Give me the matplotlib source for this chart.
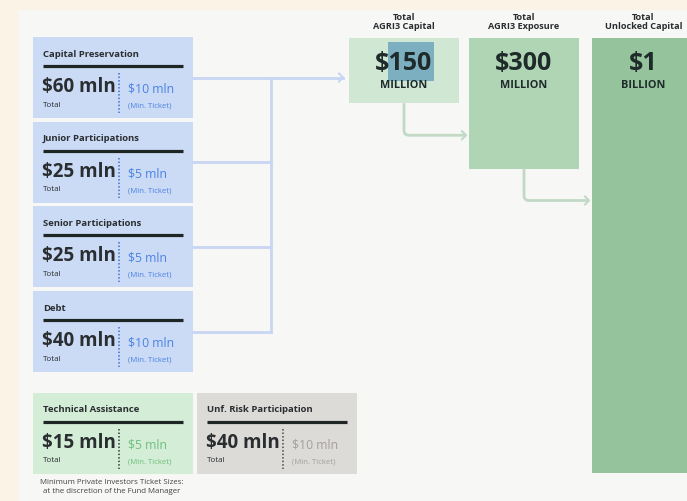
import matplotlib.pyplot as plt
from matplotlib.patches import Rectangle
from matplotlib.path import Path
from matplotlib.patches import PathPatch

plt.rcParams["font.family"] = ["Open Sans", "DejaVu Sans"]

# fund tranches (USD mln)
TRANCHES = ["Capital Preservation", "Junior Participations", "Senior Participations", "Debt"]
TRANCHE_TOTAL = [60, 25, 25, 40]
TRANCHE_TICKET = [10, 5, 5, 10]

# side facilities (USD mln)
EXTRA = ["Technical Assistance", "Unf. Risk Participation"]
EXTRA_TOTAL = [15, 40]
EXTRA_TICKET = [5, 10]

# totals (USD mln)
SUMMARY_HEAD = ["Total\nAGRI3 Capital", "Total\nAGRI3 Exposure", "Total\nUnlocked Capital"]
SUMMARY_VAL = [150, 300, 1000]
SUMMARY_TXT = ["$150", "$300", "$1"]
SUMMARY_UNIT = ["MILLION", "MILLION", "BILLION"]

FOOTNOTE = "Minimum Private Investors Ticket Sizes:\nat the discretion of the Fund Manager"

DARK = "#2a2e31"
BLUE_FACE = "#cbdbf5"
BLUE_TXT = "#4b82e3"
LINK_BLUE = "#c8d5f3"
LINK_GREEN = "#c2d9c6"
GREENS = ["#d0e7d4", "#afd5b5", "#95c49c"]

W, H = 687, 501
fig = plt.figure(figsize=(W / 100, H / 100), dpi=100)
fig.patch.set_facecolor("#fcf3e7")
ax = fig.add_axes([0, 0, 1, 1])
ax.set_xlim(0, W)
ax.set_ylim(H, 0)
ax.axis("off")

# inner panel
ax.add_patch(Rectangle((18, 10), W - 18, H - 10, facecolor="#f7f7f6", edgecolor="none", zorder=0))

CARD_W, CARD_H = 160, 81


def card(x0, y0, title, total, ticket, face, accent, dots):
    ax.add_patch(Rectangle((x0, y0), CARD_W, CARD_H, facecolor=face, edgecolor="none", zorder=1))
    ax.text(x0 + 10, y0 + 17, title, fontsize=6.8, fontweight="bold", color=DARK, va="center", zorder=3)
    ax.plot([x0 + 10, x0 + 150], [y0 + 29, y0 + 29], color="#1d2525", lw=2.3,
            solid_capstyle="butt", zorder=3)
    ax.text(x0 + 9, y0 + 50, f"${total} mln", fontsize=13.5, fontweight="bold", color=DARK,
            va="center", zorder=3)
    ax.text(x0 + 10, y0 + 68, "Total", fontsize=5.8, color=DARK, va="center", zorder=3)
    ax.plot([x0 + 86, x0 + 86], [y0 + 36, y0 + 76], color=dots, lw=1.1, ls=(0, (1, 1.3)), zorder=3)
    ax.text(x0 + 95, y0 + 52, f"${ticket} mln", fontsize=8.8, color=accent, va="center", zorder=3)
    ax.text(x0 + 95, y0 + 69, "(Min. Ticket)", fontsize=5.6, color=accent, va="center", zorder=3)


tops = [37 + i * 84.7 for i in range(len(TRANCHES))]
for y0, name, tot, tic in zip(tops, TRANCHES, TRANCHE_TOTAL, TRANCHE_TICKET):
    card(33, y0, name, tot, tic, BLUE_FACE, BLUE_TXT, "#3d6fd0")

extra_style = [("#d3edd7", "#6fbf7c", "#2d3a2f"), ("#dddbd8", "#a3a09c", "#4a4845")]
for i, (name, tot, tic) in enumerate(zip(EXTRA, EXTRA_TOTAL, EXTRA_TICKET)):
    face, acc, dots = extra_style[i]
    card(33 + i * 164, 393, name, tot, tic, face, acc, dots)

ax.text(112, 487, FOOTNOTE, fontsize=5.7, color="#444", ha="center", va="center", linespacing=1.4)

# blue connectors into the trunk
mids = [t + CARD_H / 2 for t in tops]
trunk_x = 271
for m in mids[1:]:
    ax.plot([193, trunk_x], [m, m], color=LINK_BLUE, lw=2, zorder=1)
ax.plot([trunk_x, trunk_x], [mids[0], mids[-1]], color=LINK_BLUE, lw=2, zorder=1)
ax.plot([193, 343], [mids[0], mids[0]], color=LINK_BLUE, lw=2, zorder=1)
ax.plot([339, 343, 339], [mids[0] - 4, mids[0], mids[0] + 4], color=LINK_BLUE, lw=1.5, zorder=1)

# summary bars, height proportional to value
scale = 0.435
bar_w = 110
lefts = [349, 469, 592]
bar_top = 38
ax.bar([l + bar_w / 2 for l in lefts], [v * scale for v in SUMMARY_VAL], bottom=bar_top,
       width=bar_w, color=GREENS, zorder=1)

# highlight patch on first value
ax.add_patch(Rectangle((388, 42), 46, 39, facecolor="#6da5bd", alpha=0.85, edgecolor="none", zorder=2))

for l, head, txt, unit in zip(lefts, SUMMARY_HEAD, SUMMARY_TXT, SUMMARY_UNIT):
    cx = l + bar_w / 2
    if l + bar_w > W:
        cx = l + (W - l) / 2 + 4
    ax.text(cx, 22, head, fontsize=6.6, fontweight="bold", color=DARK, ha="center", va="center",
            linespacing=1.0)
    ax.text(cx, 63, txt, fontsize=18, fontweight="bold", color="#1f2a2a", ha="center", va="center",
            zorder=3)
    ax.text(cx, 85, unit, fontsize=7.8, fontweight="bold", color="#1f2a2a", ha="center", va="center",
            zorder=3)

# green elbow connectors between the totals
for i in range(2):
    x_start = lefts[i] + bar_w / 2
    y_start = bar_top + SUMMARY_VAL[i] * scale
    y_turn = y_start + 32
    x_end = lefts[i + 1] - 3
    verts = [(x_start, y_start), (x_start, y_turn - 5), (x_start, y_turn), (x_start + 5, y_turn),
             (x_end, y_turn)]
    codes = [Path.MOVETO, Path.LINETO, Path.CURVE3, Path.CURVE3, Path.LINETO]
    ax.add_patch(PathPatch(Path(verts, codes), facecolor="none", edgecolor=LINK_GREEN, lw=2, zorder=1))
    ax.plot([x_end - 4, x_end, x_end - 4], [y_turn - 4, y_turn, y_turn + 4], color=LINK_GREEN, lw=1.5)

fig.savefig("out.png", dpi=100, facecolor=fig.get_facecolor())
